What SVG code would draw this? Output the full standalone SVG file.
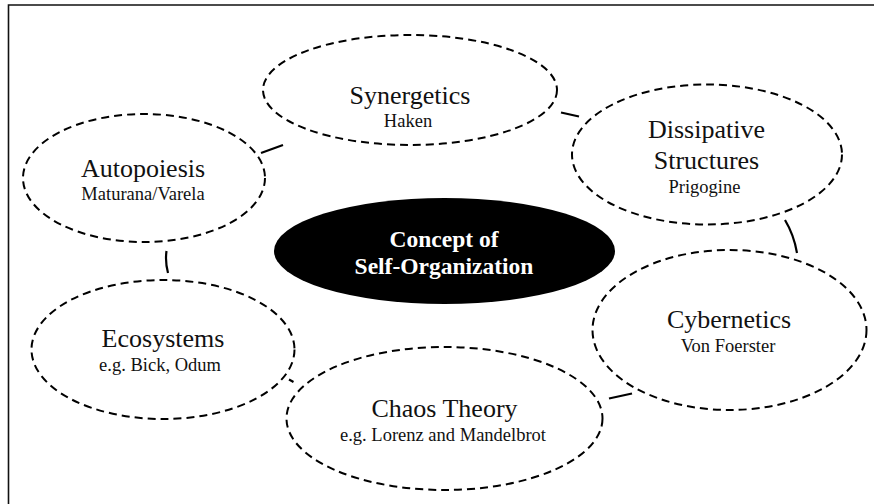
<svg xmlns="http://www.w3.org/2000/svg" width="874" height="504" viewBox="0 0 874 504">
  <style>
    .bubble { fill: #ffffff; stroke: #000000; stroke-width: 2; stroke-dasharray: 8 5; }
    .core { fill: #000000; stroke: none; }
    .title { font-family: "Liberation Serif", "Times New Roman", serif; font-size: 26px; fill: #111111; text-anchor: middle; }
    .sub { font-family: "Liberation Serif", "Times New Roman", serif; font-size: 18.5px; fill: #111111; text-anchor: middle; }
    .core-label { font-family: "Liberation Serif", "Times New Roman", serif; font-size: 23.5px; font-weight: bold; fill: #ffffff; text-anchor: middle; }
    .link { fill: none; stroke: #000000; stroke-width: 2.2; }
    .frame { fill: none; stroke: #111111; stroke-width: 1.6; }
  </style>

  <rect width="874" height="504" fill="#ffffff"/>

  <!-- open page frame: top and left rules only -->
  <path class="frame" d="M8.5,504 V5 H874"/>

  <!-- short solid links between neighbouring bubbles -->
  <g id="connectors">
    <path class="link" d="M261,153 L283,145"/>
    <path class="link" d="M561,112.5 L579,116.5"/>
    <path class="link" d="M785,220 Q794,235 797,253"/>
    <path class="link" d="M609,398.5 L632,393.5"/>
    <path class="link" d="M289,379.5 L293.5,382"/>
    <path class="link" d="M166.5,251 Q165,262 168,273"/>
  </g>

  <g id="synergetics">
    <ellipse class="bubble" cx="410" cy="90" rx="147" ry="55"/>
    <text class="title" x="410" y="104">Synergetics</text>
    <text class="sub" x="408" y="127">Haken</text>
  </g>

  <g id="autopoiesis">
    <ellipse class="bubble" cx="144" cy="178" rx="121" ry="64"/>
    <text class="title" x="143" y="177">Autopoiesis</text>
    <text class="sub" x="143" y="200">Maturana/Varela</text>
  </g>

  <g id="dissipative-structures">
    <ellipse class="bubble" cx="707" cy="154.5" rx="135" ry="70"/>
    <text class="title" x="706.5" y="138">Dissipative</text>
    <text class="title" x="706.5" y="169">Structures</text>
    <text class="sub" x="704.5" y="193">Prigogine</text>
  </g>

  <g id="cybernetics">
    <ellipse class="bubble" cx="729.5" cy="330" rx="137" ry="80"/>
    <text class="title" x="729" y="328">Cybernetics</text>
    <text class="sub" x="728" y="352">Von Foerster</text>
  </g>

  <g id="ecosystems">
    <ellipse class="bubble" cx="163" cy="349.5" rx="131.5" ry="69.5"/>
    <text class="title" x="163" y="347">Ecosystems</text>
    <text class="sub" x="160" y="371">e.g. Bick, Odum</text>
  </g>

  <g id="chaos-theory">
    <ellipse class="bubble" cx="444.5" cy="418.5" rx="158" ry="71.5"/>
    <text class="title" x="444.5" y="417">Chaos Theory</text>
    <text class="sub" x="443" y="441">e.g. Lorenz and Mandelbrot</text>
  </g>

  <g id="self-organization">
    <ellipse class="core" cx="444.5" cy="251" rx="170.5" ry="53"/>
    <text class="core-label" x="444" y="247">Concept of</text>
    <text class="core-label" x="444" y="274">Self-Organization</text>
  </g>
</svg>
